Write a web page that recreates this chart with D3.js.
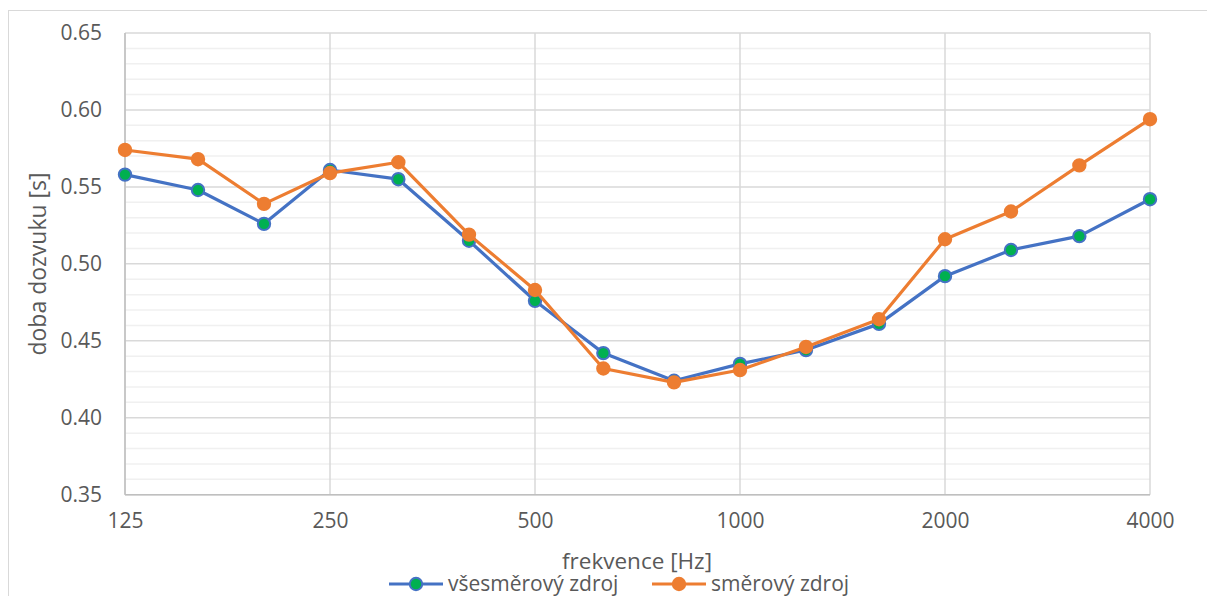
<!DOCTYPE html>
<html>
<head>
<meta charset="utf-8">
<script src="https://cdn.jsdelivr.net/npm/d3@7"></script>
<style>
  html, body { margin: 0; padding: 0; background: #fff; }
  svg { display: block; font-family: "Open Sans", sans-serif; }
</style>
</head>
<body>
<svg id="chart" width="1207" height="596"></svg>
<script>
// Third-octave band centre frequencies [Hz]
const frequencies = [125, 160, 200, 250, 315, 400, 500, 630, 800, 1000, 1250, 1600, 2000, 2500, 3150, 4000];
// Reverberation time [s], omnidirectional source
const omniValues = [0.558, 0.548, 0.526, 0.561, 0.555, 0.515, 0.476, 0.442, 0.424, 0.435, 0.444, 0.461, 0.492, 0.509, 0.518, 0.542];
// Reverberation time [s], directional source
const dirValues = [0.574, 0.568, 0.539, 0.559, 0.566, 0.519, 0.483, 0.432, 0.423, 0.431, 0.446, 0.464, 0.516, 0.534, 0.564, 0.594];
// Axis ticks
const xTicks = [125, 250, 500, 1000, 2000, 4000];
const yTicks = [0.35, 0.40, 0.45, 0.50, 0.55, 0.60, 0.65];
const yMinorTicks = d3.range(36, 65).filter(v => v % 5 !== 0).map(v => v / 100);
const seriesNames = ["všesměrový zdroj", "směrový zdroj"];

const svg = d3.select("#chart");
const plot = { left: 125, right: 1150, top: 33, bottom: 494.7 };

const x = d3.scaleLog().base(2).domain([125, 4000]).range([plot.left, plot.right]);
const y = d3.scaleLinear().domain([0.35, 0.65]).range([plot.bottom, plot.top]);

// Outer chart frame
svg.append("rect")
  .attr("x", 8.5).attr("y", 10.5)
  .attr("width", 1220).attr("height", 620)
  .attr("fill", "#fff").attr("stroke", "#d9d9d9").attr("stroke-width", 1);

// Minor horizontal gridlines
svg.append("g")
  .selectAll("line").data(yMinorTicks).join("line")
  .attr("x1", plot.left).attr("x2", plot.right)
  .attr("y1", d => y(d)).attr("y2", d => y(d))
  .attr("stroke", "#f0f0f0").attr("stroke-width", 1.5);

// Major horizontal gridlines
svg.append("g")
  .selectAll("line").data(yTicks).join("line")
  .attr("x1", plot.left).attr("x2", plot.right)
  .attr("y1", d => y(d)).attr("y2", d => y(d))
  .attr("stroke", "#d9d9d9").attr("stroke-width", 1.5);

// Vertical gridlines at octave bands
svg.append("g")
  .selectAll("line").data(xTicks).join("line")
  .attr("x1", d => x(d)).attr("x2", d => x(d))
  .attr("y1", plot.top).attr("y2", plot.bottom)
  .attr("stroke", "#d9d9d9").attr("stroke-width", 1.5);

// Axis lines
svg.append("line")
  .attr("x1", plot.left).attr("x2", plot.left)
  .attr("y1", plot.top).attr("y2", plot.bottom)
  .attr("stroke", "#bfbfbf").attr("stroke-width", 1.5);
svg.append("line")
  .attr("x1", plot.left).attr("x2", plot.right)
  .attr("y1", plot.bottom).attr("y2", plot.bottom)
  .attr("stroke", "#bfbfbf").attr("stroke-width", 1.5);

// Y axis labels
const yAxis = d3.axisLeft(y).tickValues(yTicks).tickFormat(d3.format(".2f")).tickSize(0).tickPadding(23);
const gy = svg.append("g").attr("transform", `translate(${plot.left},0)`).call(yAxis);
gy.select(".domain").remove();
gy.selectAll("text").attr("fill", "#595959").style("font-size", "21px").style("font-family", "'Open Sans', sans-serif");

// X axis labels
const xAxis = d3.axisBottom(x).tickValues(xTicks).tickFormat(d3.format("d")).tickSize(0).tickPadding(18);
const gx = svg.append("g").attr("transform", `translate(0,${plot.bottom})`).call(xAxis);
gx.select(".domain").remove();
gx.selectAll("text").attr("fill", "#595959").style("font-size", "21px").style("font-family", "'Open Sans', sans-serif");

// Axis titles
svg.append("text")
  .attr("x", 637).attr("y", 569)
  .attr("text-anchor", "middle")
  .attr("fill", "#595959").style("font-size", "22.5px")
  .text("frekvence [Hz]");
svg.append("text")
  .attr("transform", "translate(46,264) rotate(-90)")
  .attr("text-anchor", "middle")
  .attr("fill", "#595959").style("font-size", "23px")
  .text("doba dozvuku [s]");

// Series
const series = [
  { name: seriesNames[0], values: omniValues, line: "#4472c4", fill: "#00b050", stroke: "#4472c4" },
  { name: seriesNames[1], values: dirValues, line: "#ed7d31", fill: "#ed7d31", stroke: "#ed7d31" }
];

const line = d3.line().x(d => x(d[0])).y(d => y(d[1]));

series.forEach(s => {
  const pts = frequencies.map((f, i) => [f, s.values[i]]);
  svg.append("path")
    .datum(pts)
    .attr("d", line)
    .attr("fill", "none")
    .attr("stroke", s.line)
    .attr("stroke-width", 3.2)
    .attr("stroke-linejoin", "round");
  svg.append("g")
    .selectAll("circle").data(pts).join("circle")
    .attr("cx", d => x(d[0])).attr("cy", d => y(d[1]))
    .attr("r", 6.2)
    .attr("fill", s.fill)
    .attr("stroke", s.stroke)
    .attr("stroke-width", 2);
});

// Legend
const legendItems = [
  { x0: 389, x1: 443, tx: 448 },
  { x0: 652, x1: 706, tx: 711 }
];
const ly = 584;
series.forEach((s, i) => {
  const it = legendItems[i];
  const g = svg.append("g");
  g.append("line")
    .attr("x1", it.x0).attr("x2", it.x1).attr("y1", ly).attr("y2", ly)
    .attr("stroke", s.line).attr("stroke-width", 3.2);
  g.append("circle")
    .attr("cx", (it.x0 + it.x1) / 2).attr("cy", ly).attr("r", 6.2)
    .attr("fill", s.fill).attr("stroke", s.stroke).attr("stroke-width", 2);
  g.append("text")
    .attr("x", it.tx).attr("y", ly + 7)
    .attr("fill", "#595959").style("font-size", "21px")
    .text(s.name);
});
</script>
</body>
</html>
